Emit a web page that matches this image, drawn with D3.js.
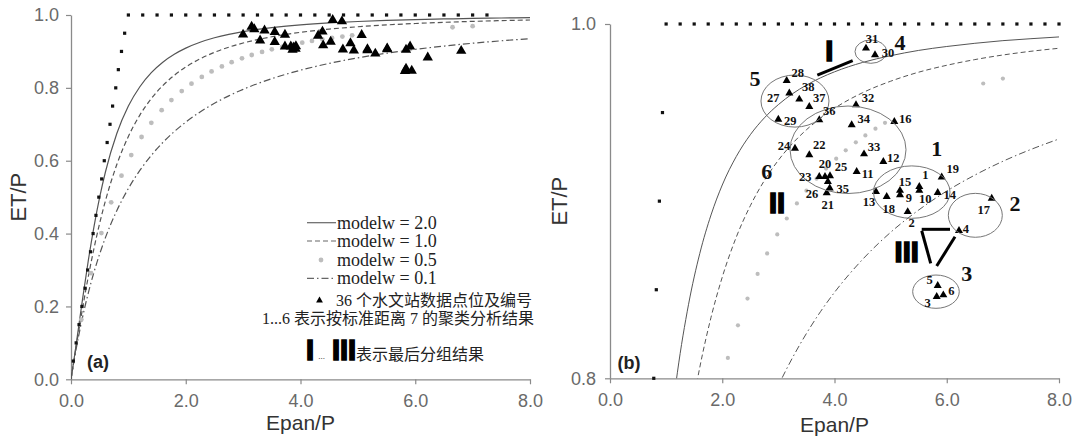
<!DOCTYPE html>
<html><head><meta charset="utf-8">
<script src="https://cdn.jsdelivr.net/npm/d3@7"></script>
<style>body{margin:0;background:#fff}svg{display:block}</style>
</head><body>
<svg id="c" width="1083" height="441"></svg>
<script>
// ---------------- data ----------------
const curveX   = [0,0.05,0.1,0.2,0.3,0.4,0.5,0.6,0.8,1.0,1.2,1.4,1.6,1.8,2.0,2.25,2.5,2.75,3.0,3.25,3.5,3.75,4.0,4.5,5.0,5.5,6.0,6.5,7.0,7.5,8.0];
const modelw20 = [0,0.0521,0.1071,0.2188,0.3243,0.4186,0.5000,0.5690,0.6753,0.7500,0.8031,0.8418,0.8705,0.8922,0.9091,0.9252,0.9375,0.9470,0.9545,0.9606,0.9655,0.9696,0.9730,0.9783,0.9821,0.9851,0.9873,0.9891,0.9906,0.9917,0.9927];
const modelw10 = [0,0.0499,0.0991,0.1935,0.2806,0.3590,0.4286,0.4898,0.5902,0.6667,0.7253,0.7706,0.8062,0.8344,0.8571,0.8797,0.8974,0.9116,0.9231,0.9325,0.9403,0.9468,0.9524,0.9612,0.9677,0.9728,0.9767,0.9799,0.9825,0.9846,0.9863];
const modelw01 = [0,0.0478,0.0917,0.1694,0.2361,0.2938,0.3443,0.3888,0.4635,0.5238,0.5734,0.6148,0.6499,0.6799,0.7059,0.7338,0.7576,0.7781,0.7959,0.8115,0.8253,0.8376,0.8485,0.8671,0.8824,0.8950,0.9057,0.9147,0.9225,0.9292,0.9351];
const modelw05X = [0.18,0.35,0.53,0.70,0.88,1.05,1.23,1.40,1.58,1.75,1.93,2.10,2.28,2.45,2.63,2.80,2.98,3.15,3.33,3.50,3.68,3.85,4.03,4.20,4.38,4.55,4.73,4.90,6.65,7.00];
const modelw05Y = [0.164,0.2914,0.4014,0.4859,0.5589,0.6156,0.6651,0.7041,0.7388,0.7664,0.7913,0.8115,0.8299,0.8450,0.8589,0.8705,0.8812,0.8902,0.8987,0.9059,0.9127,0.9184,0.9240,0.9287,0.9332,0.9371,0.9409,0.9442,0.9664,0.9692];
const limitDiagX = [0.04,0.09,0.14,0.19,0.245,0.29,0.34,0.385,0.435,0.485,0.535,0.58,0.63,0.68,0.725,0.78,0.825,0.88,0.935];
const limitDiagY = [0.05,0.10,0.15,0.20,0.25,0.30,0.35,0.40,0.45,0.50,0.55,0.60,0.65,0.70,0.75,0.80,0.85,0.90,0.95];
const limitTopX = [1.0,1.25,1.5,1.75,2.0,2.25,2.5,2.75,3.0,3.25,3.5,3.75,4.0,4.25,4.5,4.75,5.0,5.25,5.5,5.75,6.0,6.25,6.5,6.75,7.0,7.25,7.5,7.75,8.0];

const stationIds = [1,2,3,4,5,6,9,10,11,12,13,14,15,16,17,18,19,20,21,22,23,24,25,26,27,28,29,30,31,32,33,34,35,36,37,38];
const stationX = [5.511,5.304,5.821,6.218,5.839,5.939,5.167,5.511,4.395,4.870,4.739,5.839,5.167,5.066,6.801,4.930,5.910,3.831,3.861,3.551,3.729,3.296,3.920,3.882,3.195,3.148,2.999,4.722,4.561,4.383,4.526,4.306,3.915,3.729,3.551,3.373];
const stationY = [0.9082,0.8940,0.8461,0.8833,0.8523,0.8470,0.9035,0.9060,0.9166,0.9223,0.9053,0.9048,0.9060,0.9449,0.9016,0.9025,0.9135,0.9138,0.9046,0.9261,0.9138,0.9298,0.9142,0.9110,0.9609,0.9680,0.9462,0.9825,0.9863,0.9543,0.9266,0.9430,0.9073,0.9458,0.9533,0.9575];

const clusterIds = ['1','2','3','4','5','6'];
const clusterCx = [5.376,6.509,5.808,4.647,3.296,4.241];
const clusterCy = [0.9051,0.8920,0.8489,0.9844,0.9565,0.9290];
const clusterRx = [0.682,0.481,0.415,0.282,0.606,1.033];
const clusterRy = [0.0148,0.0124,0.0094,0.0066,0.0147,0.0247];
const clusterLabelX = [5.821,7.216,6.356,5.167,2.583,2.792];
const clusterLabelY = [0.9298,0.8988,0.8593,0.9898,0.9693,0.9166];

const groupNames = ['I','II','III'];
const groupX = [3.907,2.976,5.286];
const groupY = [0.9848,0.8990,0.8715];
// connector segments: [x1,y1,x2,y2]
const groupLinks = [[3.694,0.9712,4.324,0.9793],[5.554,0.8841,6.058,0.8841],[5.554,0.8833,5.714,0.8649],[6.147,0.8799,5.821,0.8634]];

const xTicks = [0,2,4,6,8];
const yTicksA = [0,0.2,0.4,0.6,0.8,1.0];
const yTicksB = [0.8,1.0];
const legendLines = ['modelw = 2.0','modelw = 1.0','modelw = 0.5','modelw = 0.1'];
const legendText1 = '36 个水文站数据点位及编号';
const legendText2 = '1...6 表示按标准距离 7 的聚类分析结果';
const legendText3 = '表示最后分组结果';

// ---------------- layout / style ----------------
const labelOff = {1:[6,-12],2:[4,11],3:[-9,6],4:[7,-2],5:[-8,-6],6:[8,-4],9:[9,3],10:[6,8],11:[11,2],12:[10,-4],13:[-7,10],14:[12,2],15:[5,-9],16:[11,-3],17:[-8,12],18:[2,12],19:[11,-8],20:[0,-13],21:[1,12],22:[10,-10],23:[-14,0],24:[-11,-2],25:[11,-9],26:[-16,12],27:[-16,5],28:[11,-8],29:[12,2],30:[13,-2],31:[6,-9],32:[12,-7],33:[10,-7],34:[12,-6],35:[13,1],36:[10,-9],37:[10,-9],38:[9,-12]};

const svg = d3.select('#c');
const fmt = d3.format('.1f');
const series = [
  {vals:modelw20, dash:null},
  {vals:modelw10, dash:'5,3'},
  {vals:modelw01, dash:'7,3,1.5,3'}
];
const panels = [
  {key:'a', px:[71,530], py:[379.3,15], yDom:[0,1], yTicks:yTicksA, topMax:7.25, tri:46, grayR:2.4, ypad:7, title:'(a)', titlePos:[98,362], xtitleY:430, ytitleX:26},
  {key:'b', px:[610,1059], py:[378.3,24], yDom:[0.8,1], yTicks:yTicksB, topMax:8.01, tri:28, grayR:2.1, ypad:9, title:'(b)', titlePos:[629,363], xtitleY:432, ytitleX:567}
];

panels.forEach(p => {
  const x = d3.scaleLinear().domain([0,8]).range(p.px);
  const y = d3.scaleLinear().domain(p.yDom).range(p.py);
  const g = svg.append('g');
  const clipId = 'clip'+p.key;
  svg.append('clipPath').attr('id',clipId).append('rect')
    .attr('x',p.px[0]).attr('y',p.py[1]-6).attr('width',p.px[1]-p.px[0]+4).attr('height',p.py[0]-p.py[1]+6);

  const ax = g.append('g').attr('transform',`translate(0,${p.py[0]})`)
    .call(d3.axisBottom(x).tickValues(xTicks).tickFormat(fmt).tickSize(5).tickSizeOuter(0).tickPadding(10));
  const ay = g.append('g').attr('transform',`translate(${p.px[0]},0)`)
    .call(d3.axisLeft(y).tickValues(p.yTicks).tickFormat(fmt).tickSize(5).tickSizeOuter(0).tickPadding(p.ypad));
  [ax,ay].forEach(a=>{
    a.select('.domain').attr('stroke','#8a8a8a').attr('stroke-width',1.3);
    a.selectAll('.tick line').attr('stroke','#8a8a8a').attr('stroke-width',1.2);
    a.selectAll('.tick text').attr('fill','#6a6a6a').attr('font-size',18).attr('font-family','Liberation Sans, Arial, sans-serif');
  });

  const plot = g.append('g').attr('clip-path',`url(#${clipId})`);
  const line = d3.line().x((d,i)=>x(curveX[i])).y(d=>y(d)).curve(d3.curveMonotoneX);
  series.forEach(s=>{
    plot.append('path').datum(s.vals).attr('d',line).attr('fill','none')
      .attr('stroke','#555').attr('stroke-width',p.key==='a'?1.2:1)
      .attr('stroke-dasharray',s.dash);
  });
  plot.selectAll('circle.g05').data(modelw05X.map((v,i)=>[v,modelw05Y[i]]).filter(d=>d[1]>=p.yDom[0]))
    .join('circle').attr('cx',d=>x(d[0])).attr('cy',d=>y(d[1])).attr('r',p.grayR).attr('fill','#bdbdbd');
  const lim = limitDiagX.map((v,i)=>[v,limitDiagY[i]]).filter(d=>d[1]>=p.yDom[0]-1e-9)
    .concat(limitTopX.filter(v=>v<=p.topMax).map(v=>[v,1.0]));
  g.selectAll('rect.lim'+p.key).data(lim).join('rect')
    .attr('x',d=>x(d[0])-1.6).attr('y',d=>y(d[1])-1.6).attr('width',3.2).attr('height',3.2).attr('fill','#111');

  const st = stationIds.map((id,i)=>({id, x:stationX[i], y:stationY[i]})).filter(d=>d.y>=p.yDom[0]);
  g.selectAll('path.st'+p.key).data(st).join('path')
    .attr('d',d3.symbol(d3.symbolTriangle,p.tri))
    .attr('transform',d=>`translate(${x(d.x)},${y(d.y)})`).attr('fill','#000');

  g.append('text').attr('x',p.titlePos[0]).attr('y',p.titlePos[1]).attr('text-anchor','middle')
    .attr('dominant-baseline','central').attr('font-family','Liberation Sans, Arial, sans-serif')
    .attr('font-weight','bold').attr('font-size',18).attr('fill','#222').text(p.title);
  g.append('text').attr('x',(p.px[0]+p.px[1])/2).attr('y',p.xtitleY).attr('text-anchor','middle')
    .attr('font-family','Liberation Sans, Arial, sans-serif').attr('font-size',21).attr('fill','#333').text('Epan/P');
  g.append('text').attr('transform',`translate(${p.ytitleX},${(p.py[0]+p.py[1])/2}) rotate(-90)`).attr('text-anchor','middle')
    .attr('font-family','Liberation Sans, Arial, sans-serif').attr('font-size',22).attr('fill','#333').text('ET/P');

  if (p.key==='b') {
    g.selectAll('ellipse.cl').data(clusterIds.map((c,i)=>i)).join('ellipse')
      .attr('cx',i=>x(clusterCx[i])).attr('cy',i=>y(clusterCy[i]))
      .attr('rx',i=>x(clusterRx[i])-x(0)).attr('ry',i=>y(p.yDom[0])-y(p.yDom[0]+clusterRy[i]))
      .attr('fill','none').attr('stroke','#777').attr('stroke-width',1);
    g.selectAll('text.sl').data(st).join('text')
      .attr('x',d=>x(d.x)+labelOff[d.id][0]).attr('y',d=>y(d.y)+labelOff[d.id][1])
      .attr('text-anchor','middle').attr('dominant-baseline','central')
      .attr('font-family','Liberation Serif, Times New Roman, serif').attr('font-weight','bold')
      .attr('font-size',12.5).attr('fill','#111').text(d=>d.id);
    g.selectAll('text.cll').data(clusterIds).join('text')
      .attr('x',(d,i)=>x(clusterLabelX[i])).attr('y',(d,i)=>y(clusterLabelY[i]))
      .attr('text-anchor','middle').attr('dominant-baseline','central')
      .attr('font-family','Liberation Serif, Times New Roman, serif').attr('font-weight','bold')
      .attr('font-size',22).attr('fill','#111').text(d=>d);
    g.selectAll('line.gl').data(groupLinks).join('line')
      .attr('x1',d=>x(d[0])).attr('y1',d=>y(d[1])).attr('x2',d=>x(d[2])).attr('y2',d=>y(d[3]))
      .attr('stroke','#000').attr('stroke-width',3);
    g.selectAll('text.gn').data(groupNames).join('text')
      .attr('x',(d,i)=>x(groupX[i])).attr('y',(d,i)=>y(groupY[i]))
      .attr('text-anchor','middle').attr('dominant-baseline','central')
      .attr('font-family','Liberation Sans, Arial, sans-serif').attr('font-weight','bold')
      .attr('font-size',29).attr('fill','#000').attr('stroke','#000').attr('stroke-width',1.6)
      .text(d=>d);
  }
});

// ---------------- legend (panel a) ----------------
const lg = svg.append('g');
const rowY = [222.7,241,260,278.3];
const lgStyles = [{dash:null},{dash:'5,3'},{dot:true},{dash:'7,3,1.5,3'}];
legendLines.forEach((t,i)=>{
  if (lgStyles[i].dot) {
    lg.append('circle').attr('cx',321).attr('cy',rowY[i]).attr('r',2.4).attr('fill','#bdbdbd');
  } else {
    lg.append('line').attr('x1',307).attr('x2',336).attr('y1',rowY[i]).attr('y2',rowY[i])
      .attr('stroke','#666').attr('stroke-width',1.2).attr('stroke-dasharray',lgStyles[i].dash);
  }
  lg.append('text').attr('x',337).attr('y',rowY[i]+6).attr('font-family','Liberation Serif, Times New Roman, serif')
    .attr('font-size',18).attr('fill','#222').text(t);
});
lg.append('path').attr('d',d3.symbol(d3.symbolTriangle,20)).attr('transform','translate(319.5,300.5)').attr('fill','#000');
lg.append('text').attr('x',336).attr('y',305.5).attr('font-family','Liberation Serif, Noto Sans CJK SC, serif')
  .attr('font-size',16).attr('fill','#222').text(legendText1);
lg.append('text').attr('x',262).attr('y',323.5).attr('font-family','Liberation Serif, Noto Sans CJK SC, serif')
  .attr('font-size',16).attr('fill','#222').text(legendText2);
lg.append('text').attr('x',310).attr('y',360).attr('text-anchor','middle').attr('font-family','Liberation Sans, Arial, sans-serif')
  .attr('font-weight','bold').attr('font-size',29).attr('stroke','#000').attr('stroke-width',1.6).attr('fill','#000').text('I');
lg.append('text').attr('x',321.5).attr('y',359).attr('text-anchor','middle').attr('font-family','Liberation Serif, serif')
  .attr('font-size',9).attr('fill','#222').text('...');
lg.append('text').attr('x',344).attr('y',360).attr('text-anchor','middle').attr('font-family','Liberation Sans, Arial, sans-serif')
  .attr('font-weight','bold').attr('font-size',29).attr('stroke','#000').attr('stroke-width',1.6).attr('fill','#000').text('III');
lg.append('text').attr('x',356).attr('y',360).attr('font-family','Noto Sans CJK SC, sans-serif')
  .attr('font-size',16).attr('fill','#222').text(legendText3);
</script>
</body></html>
